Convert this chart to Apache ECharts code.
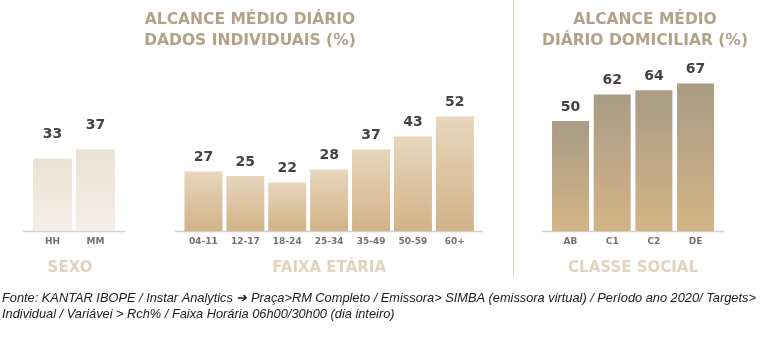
<!DOCTYPE html>
<html><head><meta charset="utf-8">
<script src="https://cdn.jsdelivr.net/npm/echarts@6/dist/echarts.min.js"></script>
<style>html,body{margin:0;padding:0;background:#fff}#c{width:768px;height:356px}</style>
</head><body><div id="c"></div>
<script>
const sexoCats = ['HH', 'MM'];
const sexoVals = [33, 37];
const idadeCats = ['04-11', '12-17', '18-24', '25-34', '35-49', '50-59', '60+'];
const idadeVals = [27, 25, 22, 28, 37, 43, 52];
const classeCats = ['AB', 'C1', 'C2', 'DE'];
const classeVals = [50, 62, 64, 67];
const groupNames = ['SEXO', 'FAIXA ETÁRIA', 'CLASSE SOCIAL'];
const titleLeft = 'ALCANCE MÉDIO DIÁRIO\nDADOS INDIVIDUAIS (%)';
const titleRight = 'ALCANCE MÉDIO\nDIÁRIO DOMICILIAR (%)';
const footer1 = 'Fonte: KANTAR IBOPE / Instar Analytics \u2794 Praça>RM Completo / Emissora> SIMBA (emissora virtual) / Período ano 2020/ Targets>';
const footer2 = 'Individual / Variávei > Rch% / Faixa Horária 06h00/30h00 (dia inteiro)';

const chart = echarts.init(document.getElementById('c'));
const FONT = '"DejaVu Sans", sans-serif';
const grad = (a, b) => new echarts.graphic.LinearGradient(0, 0, 0, 1, [{offset: 0, color: a}, {offset: 1, color: b}]);

const grids = [
  {left: 31, width: 86, top: 11, height: 220},
  {left: 182.5, width: 293.3, top: 11, height: 220},
  {left: 549.7, width: 166.7, top: 11, height: 220}
];
const catsList = [sexoCats, idadeCats, classeCats];
const valsList = [sexoVals, idadeVals, classeVals];
const colors = [grad('#ebe1d3', '#f5efe7'), grad('#e7d6bd', '#d2b286'), grad('#a99b86', '#d4b485')];
const barWidths = [39, 38, 37];
const labelDist = [17, 7, 7];

const xAxes = catsList.map((cats, i) => ({
  type: 'category', gridIndex: i, data: cats,
  axisLine: {show: false}, axisTick: {show: false},
  axisLabel: {color: '#75716c', fontFamily: FONT, fontWeight: 'bold', fontSize: 9, margin: 6},
  name: groupNames[i], nameLocation: 'middle', nameGap: 30,
  nameTextStyle: {color: '#e2d3bf', fontFamily: FONT, fontWeight: 'bold', fontSize: 15, padding: i === 0 ? [0, 8, 0, 0] : 0}
}));
const yAxes = catsList.map((c, i) => ({type: 'value', gridIndex: i, min: 0, max: 100, show: false}));
const series = valsList.map((vals, i) => ({
  type: 'bar', xAxisIndex: i, yAxisIndex: i, data: vals, barWidth: barWidths[i],
  itemStyle: {color: colors[i]},
  label: {show: true, position: 'top', distance: labelDist[i], color: '#474242', fontFamily: FONT, fontWeight: 'bold', fontSize: 14}
}));

const baseLines = [[23, 125], [175, 483], [542, 724]].map(([x1, x2]) => ({
  type: 'line', shape: {x1: x1, y1: 231.5, x2: x2, y2: 231.5}, style: {stroke: '#d2d0cd', lineWidth: 1.5}, silent: true
}));

const titleStyle = {color: '#b3a288', fontFamily: FONT, fontWeight: 'bold', fontSize: 15.5, lineHeight: 21};
chart.setOption({
  animation: false,
  title: [
    {text: titleLeft, left: 245, top: 4, textAlign: 'center', textStyle: titleStyle},
    {text: titleRight, left: 640, top: 4, textAlign: 'center', textStyle: titleStyle}
  ],
  grid: grids,
  xAxis: xAxes,
  yAxis: yAxes,
  series: series,
  graphic: baseLines.concat([
    {type: 'line', shape: {x1: 513.5, y1: 0, x2: 513.5, y2: 277}, style: {stroke: '#e0d2c0', lineWidth: 1}, silent: true},
    {type: 'text', left: 2, top: 292, style: {text: footer1, font: 'italic 12.8px "Liberation Sans Narrow", sans-serif', fill: '#1a1a1a'}},
    {type: 'text', left: 2, top: 308, style: {text: footer2, font: 'italic 12.8px "Liberation Sans Narrow", sans-serif', fill: '#1a1a1a'}}
  ])
});
</script></body></html>
